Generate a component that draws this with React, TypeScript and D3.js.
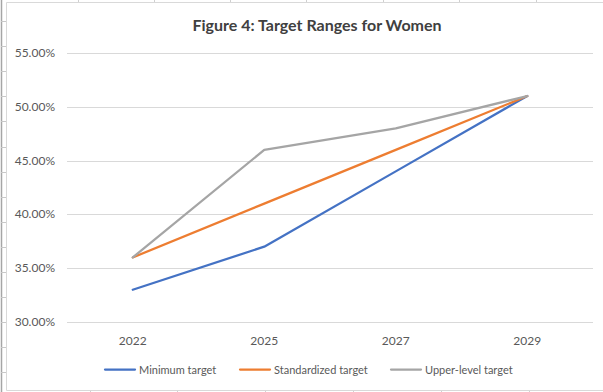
import React, { useEffect, useRef } from 'react';
import * as d3 from 'd3';

const years = ['2022', '2025', '2027', '2029'];
const minimumTarget = [0.33, 0.37, 0.44, 0.51];
const standardizedTarget = [0.36, 0.41, 0.46, 0.51];
const upperTarget = [0.36, 0.46, 0.48, 0.51];
const yTicks = [0.3, 0.35, 0.4, 0.45, 0.5, 0.55];

const seriesNames = ['Minimum target', 'Standardized target', 'Upper-level target'];
const seriesColors = ['#4472C4', '#ED7D31', '#A5A5A5'];

const FONT = 'Lato, "Open Sans", sans-serif';

function App() {
  const ref = useRef<SVGSVGElement>(null);

  useEffect(() => {
    const svg = d3.select(ref.current);
    svg.selectAll('*').remove();

    const W = 603;
    const H = 392;

    // spreadsheet backdrop: row header line + ticks, cell lines top/bottom
    const back = svg.append('g');
    back.append('line').attr('x1', 1.5).attr('x2', 1.5).attr('y1', 0).attr('y2', H)
      .attr('stroke', '#a6a6a6').attr('stroke-width', 1.5);
    d3.range(21, H, 25.1).forEach((y) => {
      back.append('line').attr('x1', 1).attr('x2', 6).attr('y1', Math.round(y) + 0.5).attr('y2', Math.round(y) + 0.5)
        .attr('stroke', '#c8c8c8');
    });
    [78, 154, 230, 306, 383, 459, 536].forEach((x) => {
      back.append('line').attr('x1', x + 0.5).attr('x2', x + 0.5).attr('y1', 0).attr('y2', 2)
        .attr('stroke', '#d0d0d0');
    });
    [90, 177, 265, 353, 441, 529].forEach((x) => {
      back.append('line').attr('x1', x + 0.5).attr('x2', x + 0.5).attr('y1', 390).attr('y2', H)
        .attr('stroke', '#d0d0d0');
    });

    // chart frame
    svg.append('path')
      .attr('d', `M${W},2.5 H6.5 V390.5 H${W}`)
      .attr('fill', '#fff')
      .attr('stroke', '#d9d9d9');

    svg.append('text')
      .attr('x', 317)
      .attr('y', 31)
      .attr('text-anchor', 'middle')
      .attr('font-family', FONT)
      .attr('font-weight', 'bold')
      .attr('font-size', 16)
      .attr('fill', '#404040')
      .text('Figure 4: Target Ranges for Women');

    const left = 67;
    const right = 593;
    const x = d3.scaleBand().domain(years).range([left, right]);
    const y = d3.scaleLinear().domain([0.3, 0.55]).range([322, 53]);

    const fmt = d3.format('.2%');

    svg.append('g')
      .selectAll('line')
      .data(yTicks)
      .enter()
      .append('line')
      .attr('x1', left)
      .attr('x2', right)
      .attr('y1', (d) => Math.round(y(d)) + 0.5)
      .attr('y2', (d) => Math.round(y(d)) + 0.5)
      .attr('stroke', '#d9d9d9')
      .attr('stroke-width', 1);

    svg.append('g')
      .selectAll('text')
      .data(yTicks)
      .enter()
      .append('text')
      .attr('x', 55)
      .attr('y', (d) => y(d) + 4)
      .attr('text-anchor', 'end')
      .attr('font-family', FONT)
      .attr('font-size', 12)
      .attr('fill', '#595959')
      .text((d) => fmt(d));

    svg.append('g')
      .selectAll('text')
      .data(years)
      .enter()
      .append('text')
      .attr('x', (d) => (x(d) as number) + x.bandwidth() / 2)
      .attr('y', 345)
      .attr('text-anchor', 'middle')
      .attr('font-family', FONT)
      .attr('font-size', 12)
      .attr('fill', '#595959')
      .text((d) => d);

    const line = d3.line<number>()
      .x((d, i) => (x(years[i]) as number) + x.bandwidth() / 2)
      .y((d) => y(d));

    [minimumTarget, standardizedTarget, upperTarget].forEach((vals, i) => {
      svg.append('path')
        .datum(vals)
        .attr('d', line)
        .attr('fill', 'none')
        .attr('stroke', seriesColors[i])
        .attr('stroke-width', 2.25)
        .attr('stroke-linejoin', 'round')
        .attr('stroke-linecap', 'round');
    });

    // legend
    const legendX = [105, 240, 391];
    const legend = svg.append('g');
    seriesNames.forEach((name, i) => {
      legend.append('line')
        .attr('x1', legendX[i]).attr('x2', legendX[i] + 30)
        .attr('y1', 369.5).attr('y2', 369.5)
        .attr('stroke', seriesColors[i])
        .attr('stroke-width', 2.25)
        .attr('stroke-linecap', 'round');
      legend.append('text')
        .attr('x', legendX[i] + 34)
        .attr('y', 373.5)
        .attr('font-family', FONT)
        .attr('font-size', 11)
        .attr('fill', '#595959')
        .text(name);
    });
  }, []);

  return (
    <svg ref={ref} width="603" height="392" style={{ position: 'absolute', left: 0, top: 0, background: '#fff' }}></svg>
  );
}

export default App;
